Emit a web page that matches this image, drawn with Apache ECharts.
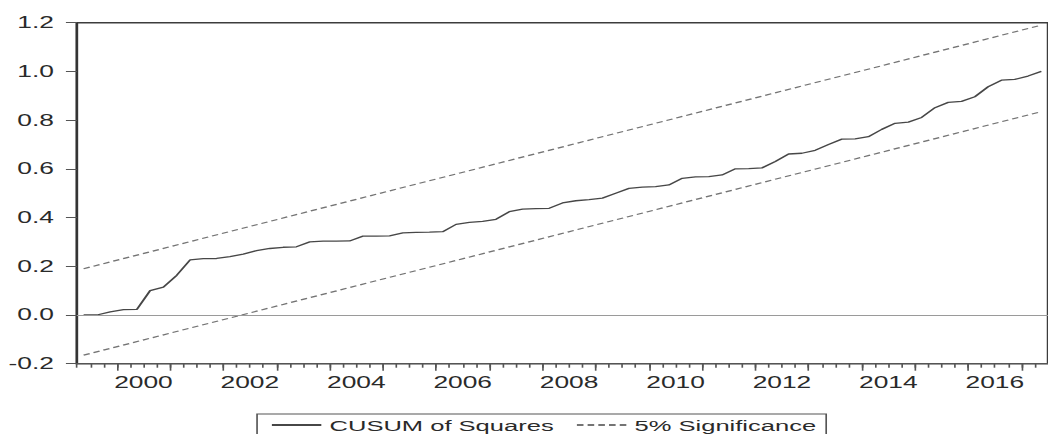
<!DOCTYPE html>
<html>
<head>
<meta charset="utf-8">
<script src="https://cdn.jsdelivr.net/npm/echarts@6/dist/echarts.min.js"></script>
<style>
  html, body { margin: 0; padding: 0; background: #ffffff; overflow: hidden; width: 1048px; height: 434px; }
  /* the figure is laid out narrow and widened horizontally, like the wide-set graph it reproduces */
  #chart { width: 636px; height: 434px; transform: scaleX(1.6478); transform-origin: 0 0; }
</style>
</head>
<body>
<div id="chart"></div>
<script>
// Quarterly sample, 1999Q2 .. 2017Q2
const startYear = 1999;
const startQuarter = 2;

// CUSUM of squares, one value per quarter
const cusumSq = [
  0.000, 0.000, 0.013, 0.022, 0.023, 0.100, 0.114, 0.163, 0.226, 0.231,
  0.232, 0.240, 0.250, 0.264, 0.273, 0.278, 0.280, 0.300, 0.303, 0.303,
  0.304, 0.324, 0.324, 0.325, 0.337, 0.339, 0.340, 0.342, 0.372, 0.380,
  0.384, 0.393, 0.424, 0.435, 0.437, 0.438, 0.460, 0.469, 0.474, 0.480,
  0.500, 0.520, 0.525, 0.527, 0.534, 0.561, 0.567, 0.568, 0.575, 0.600,
  0.601, 0.604, 0.630, 0.661, 0.664, 0.676, 0.700, 0.722, 0.723, 0.732,
  0.762, 0.787, 0.792, 0.811, 0.851, 0.873, 0.877, 0.896, 0.937, 0.964,
  0.967, 0.981, 1.000
];

// 5% significance band: value at the first and at the last observation
const upperBand = [0.190, 1.190];
const lowerBand = [-0.165, 0.835];

// year labels along the time axis
const yearLabels = [2000, 2002, 2004, 2006, 2008, 2010, 2012, 2014, 2016];

// value axis
const yMin = -0.2, yMax = 1.2, yStep = 0.2;

const FONT = '"Liberation Sans", Arial, sans-serif';
const TEXT = '#2a2a2a';

// time position of observation i (middle of its quarter)
function obsTime(i) {
  const q = startQuarter - 1 + i;
  return startYear + q / 4 + 0.125;
}
const n = cusumSq.length;
const xMin = startYear + (startQuarter - 1) / 4;
const xMax = obsTime(n - 1) + 0.125;

// year boundaries get the longer ticks
const yearTicks = [];
for (let y = Math.ceil(xMin); y <= xMax; y++) yearTicks.push(y);

const cusumData = cusumSq.map((v, i) => [obsTime(i), v]);
const upperData = [[obsTime(0), upperBand[0]], [obsTime(n - 1), upperBand[1]]];
const lowerData = [[obsTime(0), lowerBand[0]], [obsTime(n - 1), lowerBand[1]]];

const chart = echarts.init(document.getElementById('chart'), null, { renderer: 'svg' });

const bandStyle = { color: '#747474', width: 1.2, type: [4, 2.5] };
const timeAxisBase = { type: 'value', min: xMin, max: xMax, position: 'bottom', gridIndex: 0, splitLine: { show: false } };

chart.setOption({
  animation: false,
  backgroundColor: '#ffffff',
  textStyle: { fontFamily: FONT, color: TEXT },
  grid: {
    left: 46.7, top: 22.7, width: 599.2, height: 341,
    show: true, borderColor: '#3c3c3c', borderWidth: 1.5, backgroundColor: 'transparent'
  },
  legend: {
    data: ['CUSUM of Squares', '5% Significance'],
    left: 156, top: 414,
    orient: 'horizontal',
    itemWidth: 30, itemHeight: 10, itemGap: 13,
    padding: [3, 6, 12, 8],
    borderColor: '#555555', borderWidth: 1,
    itemStyle: { opacity: 0 },
    textStyle: { fontFamily: FONT, fontSize: 15.5, color: TEXT }
  },
  xAxis: [
    // quarter ticks and the axis line
    Object.assign({}, timeAxisBase, {
      interval: 0.25,
      axisLine: { show: true, onZero: false, lineStyle: { color: '#555555', width: 1 } },
      axisTick: { show: true, length: 4, lineStyle: { color: '#555555', width: 1 } },
      axisLabel: { show: false }
    }),
    // year ticks
    Object.assign({}, timeAxisBase, {
      axisLine: { show: false, onZero: false },
      axisTick: { show: true, customValues: yearTicks, length: 7, lineStyle: { color: '#555555', width: 1 } },
      axisLabel: { show: false }
    }),
    // year labels, centred on each labelled year
    Object.assign({}, timeAxisBase, {
      axisLine: { show: false, onZero: false },
      axisTick: { show: false },
      axisLabel: {
        customValues: yearLabels.map(y => y + 0.5),
        formatter: v => String(Math.floor(v)),
        margin: 11, fontSize: 16, color: TEXT, fontFamily: FONT
      }
    })
  ],
  yAxis: {
    type: 'value', min: yMin, max: yMax, interval: yStep,
    axisLine: { show: true, lineStyle: { color: '#333333', width: 1.2 } },
    axisTick: { show: true, length: 6.7, lineStyle: { color: '#555555', width: 1 } },
    axisLabel: {
      margin: 14, fontSize: 16, color: TEXT, fontFamily: FONT,
      formatter: v => (Math.abs(v) < 1e-9 ? 0 : v).toFixed(1)
    },
    splitLine: { show: false }
  },
  series: [
    {
      name: 'CUSUM of Squares', type: 'line', xAxisIndex: 0, data: cusumData,
      showSymbol: false, symbol: 'none', z: 3,
      lineStyle: { color: '#474747', width: 1.3 },
      itemStyle: { color: '#474747' },
      markLine: {
        silent: true, symbol: ['none', 'none'], label: { show: false },
        lineStyle: { color: '#9a9a9a', width: 1, type: 'solid' },
        data: [{ yAxis: 0 }]
      }
    },
    {
      name: '5% Significance', type: 'line', xAxisIndex: 0, data: upperData,
      showSymbol: false, symbol: 'none',
      lineStyle: bandStyle, itemStyle: { color: '#747474' }
    },
    {
      name: '5% Significance', type: 'line', xAxisIndex: 0, data: lowerData,
      showSymbol: false, symbol: 'none',
      lineStyle: bandStyle, itemStyle: { color: '#747474' }
    }
  ]
});
</script>
</body>
</html>
